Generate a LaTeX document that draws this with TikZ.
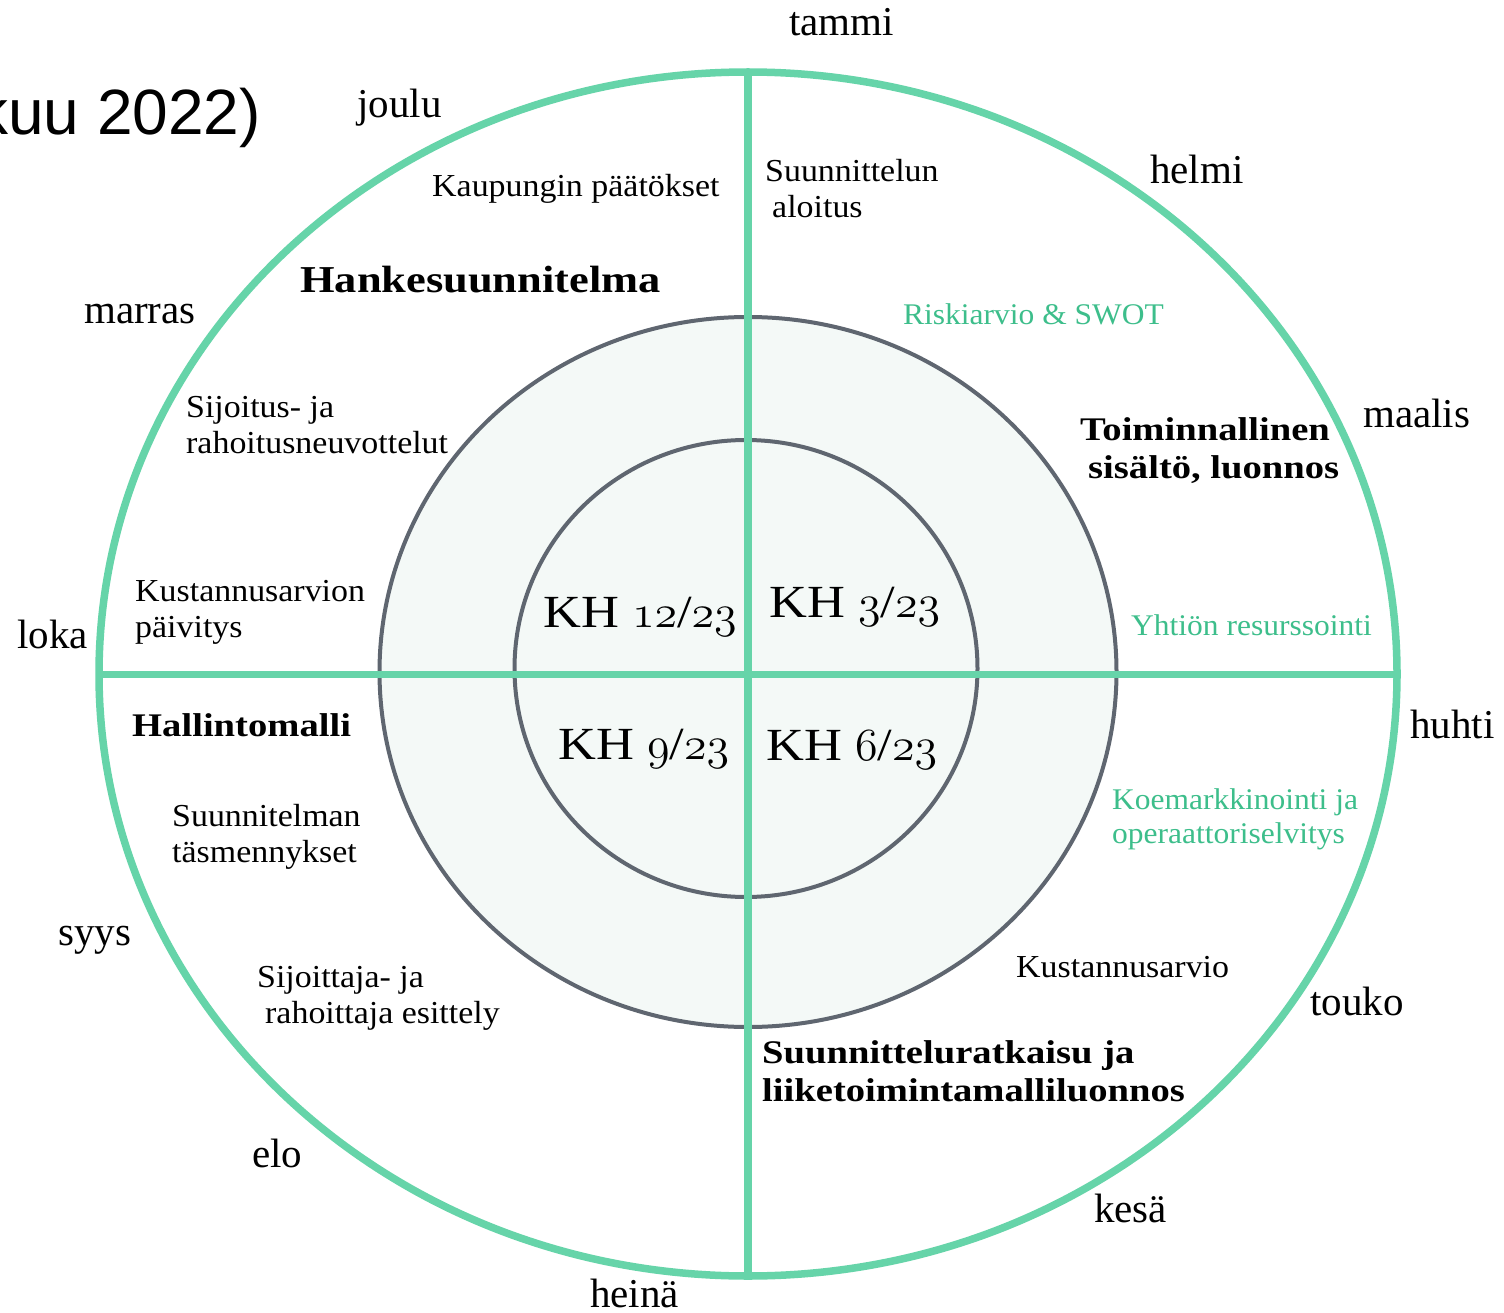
\documentclass[tikz,border=0pt]{standalone}
\usepackage{fix-cm}
\usepackage{fontspec}
\setmainfont{Liberation Serif}
\newfontfamily\labfont[FakeStretch=1.06]{Liberation Serif}
\newfontfamily\grfont[FakeStretch=1.05]{Liberation Serif}
\newfontfamily\boldfont[FakeStretch=1.17]{Liberation Serif}
\newfontfamily\khfont[FakeStretch=1.14]{Liberation Serif}
\newfontfamily\titlefont{Liberation Sans}
\definecolor{ringgreen}{HTML}{66D4A9}
\definecolor{textgreen}{HTML}{3DBE8B}
\definecolor{circgray}{HTML}{5F6670}
\definecolor{fillc}{HTML}{F4F9F7}
\newcommand{\osn}[1]{$\mathnormal{#1}$}
\begin{document}
\begin{tikzpicture}[x=1pt,y=-1pt,
  month/.style={anchor=base west,inner sep=0pt,font=\fontsize{41}{41}\selectfont},
  lab/.style={anchor=base west,inner sep=0pt,align=left,font=\labfont\fontsize{32}{36}\selectfont},
  glab/.style={anchor=base west,inner sep=0pt,align=left,text=textgreen,font=\grfont\fontsize{30}{34}\selectfont},
  blab/.style={anchor=base west,inner sep=0pt,align=left,font=\boldfont\bfseries\fontsize{33}{38}\selectfont},
  kh/.style={anchor=base west,inner sep=0pt,font=\khfont\fontsize{46}{46}\selectfont},
  ring/.style={draw=ringgreen,line width=7.5pt},
  graycirc/.style={draw=circgray,line width=4pt,fill=fillc}]
\useasboundingbox (0,0) rectangle (1504,1313);
\clip (0,0) rectangle (1504,1313);
\fill[white] (0,0) rectangle (1504,1313);

% title
\node[anchor=base east,inner sep=0pt,font=\titlefont\fontsize{64}{64}\selectfont] (title) at (261,135) {kuu 2022)};

% circles
\draw[graycirc] (748,672) ellipse [x radius=368.5pt, y radius=355pt];
\draw[graycirc] (746,668.5) ellipse [x radius=231.5pt, y radius=228.5pt];
\draw[ring] (748,674) ellipse [x radius=649pt, y radius=602pt];

% cross
\coordinate (ctop) at (748,72);
\coordinate (cbot) at (748,1276);
\coordinate (cleft) at (99,674.5);
\coordinate (cright) at (1397,674.5);
\draw[ring] (ctop) -- (cbot);
\draw[ring] (cleft) -- (cright);

% months
\node[month] (tammi) at (789,36) {tammi};
\node[month] (helmi) at (1150,184) {helmi};
\node[month] (maalis) at (1363,427) {maalis};
\node[month] (huhti) at (1410,738) {huhti};
\node[month] (touko) at (1310,1015) {touko};
\node[month] (kesa) at (1094,1222) {kesä};
\node[month] (heina) at (590,1307) {heinä};
\node[month] (elo) at (252,1167) {elo};
\node[month] (syys) at (58,945) {syys};
\node[month] (loka) at (17,648) {loka};
\node[month] (marras) at (84,324) {marras};
\node[month] (joulu) at (357,118) {joulu};

% labels (base anchor = baseline of the last line)
\node[lab] (kaup) at (432,197) {Kaupungin päätökset};
\node[lab] (suun) at (765,218) {Suunnittelun\\\hspace*{7pt}aloitus};
\node[blab,font=\boldfont\bfseries\fontsize{38}{40}\selectfont] (hanke) at (300,293) {Hankesuunnitelma};
\node[glab] (riski) at (903,325) {Riskiarvio \& SWOT};
\node[blab] (toim) at (1080,478) {Toiminnallinen\\\hspace*{8pt}sisältö, luonnos};
\node[glab] (yhtio) at (1131,635) {Yhtiön resurssointi};
\node[lab] (sijoitus) at (186,453) {Sijoitus- ja\\rahoitusneuvottelut};
\node[lab] (kustp) at (135,637) {Kustannusarvion\\päivitys};
\node[blab] (hallinto) at (132,736) {Hallintomalli};
\node[lab] (tasm) at (172,862) {Suunnitelman\\täsmennykset};
\node[lab] (sijoittaja) at (257,1023) {Sijoittaja- ja\\\hspace*{8pt}rahoittaja esittely};
\node[glab] (koe) at (1112,843) {Koemarkkinointi ja\\operaattoriselvitys};
\node[lab] (kust) at (1016,977) {Kustannusarvio};
\node[blab] (ratk) at (762,1101) {Suunnitteluratkaisu ja\\liiketoimintamalliluonnos};

% KH
\node[kh] (kh12) at (543,627) {KH \osn{12}/\osn{23}};
\node[kh] (kh3) at (769,617) {KH \osn{3}/\osn{23}};
\node[kh] (kh9) at (558,759) {KH \osn{9}/\osn{23}};
\node[kh] (kh6) at (766,760) {KH \osn{6}/\osn{23}};
\end{tikzpicture}
\end{document}
